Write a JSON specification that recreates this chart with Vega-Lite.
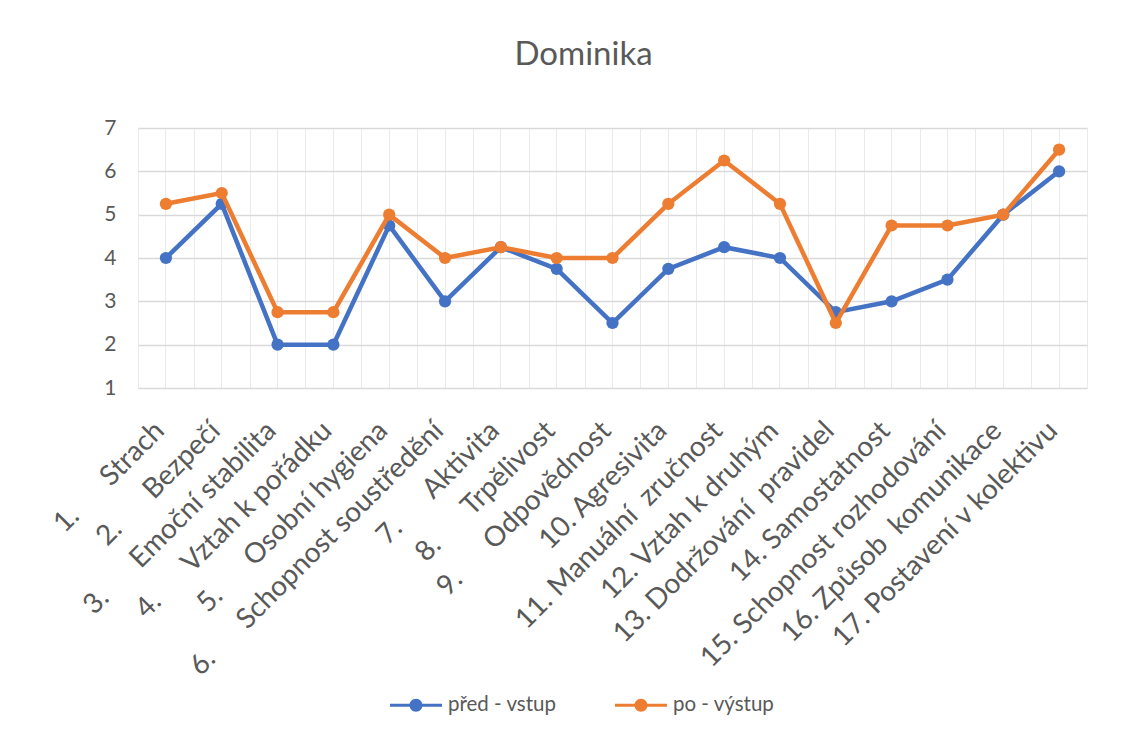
{
  "$schema": "https://vega.github.io/schema/vega-lite/v6.json",
  "autosize": {"type": "none"},
  "width": 949,
  "height": 260,
  "padding": {"left": 138, "top": 128, "right": 57, "bottom": 351},
  "title": {"text": "Dominika", "fontSize": 33, "font": "Lato", "fontWeight": "normal", "color": "#595959", "anchor": "middle", "dx": -29, "offset": 45},
  "data": {"values": [
    {"k": "1.\u00a0\u00a0\u00a0\u00a0\u00a0\u00a0Strach", "s": "před - vstup", "v": 4},
    {"k": "2.\u00a0\u00a0\u00a0\u00a0\u00a0\u00a0Bezpečí", "s": "před - vstup", "v": 5.25},
    {"k": "3.\u00a0\u00a0\u00a0\u00a0\u00a0\u00a0Emoční stabilita", "s": "před - vstup", "v": 2},
    {"k": "4.\u00a0\u00a0\u00a0\u00a0\u00a0\u00a0Vztah k pořádku", "s": "před - vstup", "v": 2},
    {"k": "5.\u00a0\u00a0\u00a0\u00a0\u00a0\u00a0Osobní hygiena", "s": "před - vstup", "v": 4.75},
    {"k": "6.\u00a0\u00a0\u00a0\u00a0\u00a0\u00a0Schopnost soustředění", "s": "před - vstup", "v": 3},
    {"k": "7.\u00a0\u00a0\u00a0\u00a0\u00a0\u00a0Aktivita", "s": "před - vstup", "v": 4.25},
    {"k": "8.\u00a0\u00a0\u00a0\u00a0\u00a0\u00a0Trpělivost", "s": "před - vstup", "v": 3.75},
    {"k": "9.\u00a0\u00a0\u00a0\u00a0\u00a0\u00a0Odpovědnost", "s": "před - vstup", "v": 2.5},
    {"k": "10. Agresivita", "s": "před - vstup", "v": 3.75},
    {"k": "11. Manuální\u00a0 zručnost", "s": "před - vstup", "v": 4.25},
    {"k": "12. Vztah k druhým", "s": "před - vstup", "v": 4},
    {"k": "13. Dodržování\u00a0 pravidel", "s": "před - vstup", "v": 2.75},
    {"k": "14. Samostatnost", "s": "před - vstup", "v": 3},
    {"k": "15. Schopnost rozhodování", "s": "před - vstup", "v": 3.5},
    {"k": "16. Způsob\u00a0 komunikace", "s": "před - vstup", "v": 5},
    {"k": "17. Postavení v kolektivu", "s": "před - vstup", "v": 6},
    {"k": "1.\u00a0\u00a0\u00a0\u00a0\u00a0\u00a0Strach", "s": "po - výstup", "v": 5.25},
    {"k": "2.\u00a0\u00a0\u00a0\u00a0\u00a0\u00a0Bezpečí", "s": "po - výstup", "v": 5.5},
    {"k": "3.\u00a0\u00a0\u00a0\u00a0\u00a0\u00a0Emoční stabilita", "s": "po - výstup", "v": 2.75},
    {"k": "4.\u00a0\u00a0\u00a0\u00a0\u00a0\u00a0Vztah k pořádku", "s": "po - výstup", "v": 2.75},
    {"k": "5.\u00a0\u00a0\u00a0\u00a0\u00a0\u00a0Osobní hygiena", "s": "po - výstup", "v": 5},
    {"k": "6.\u00a0\u00a0\u00a0\u00a0\u00a0\u00a0Schopnost soustředění", "s": "po - výstup", "v": 4},
    {"k": "7.\u00a0\u00a0\u00a0\u00a0\u00a0\u00a0Aktivita", "s": "po - výstup", "v": 4.25},
    {"k": "8.\u00a0\u00a0\u00a0\u00a0\u00a0\u00a0Trpělivost", "s": "po - výstup", "v": 4},
    {"k": "9.\u00a0\u00a0\u00a0\u00a0\u00a0\u00a0Odpovědnost", "s": "po - výstup", "v": 4},
    {"k": "10. Agresivita", "s": "po - výstup", "v": 5.25},
    {"k": "11. Manuální\u00a0 zručnost", "s": "po - výstup", "v": 6.25},
    {"k": "12. Vztah k druhým", "s": "po - výstup", "v": 5.25},
    {"k": "13. Dodržování\u00a0 pravidel", "s": "po - výstup", "v": 2.5},
    {"k": "14. Samostatnost", "s": "po - výstup", "v": 4.75},
    {"k": "15. Schopnost rozhodování", "s": "po - výstup", "v": 4.75},
    {"k": "16. Způsob\u00a0 komunikace", "s": "po - výstup", "v": 5},
    {"k": "17. Postavení v kolektivu", "s": "po - výstup", "v": 6.5}
  ]},
  "layer": [
    {
      "transform": [{"filter": "datum.s === 'před - vstup'"}],
      "mark": {"type": "line", "strokeWidth": 4.5},
      "encoding": {
        "x": {"field": "k", "type": "nominal", "sort": null, "scale": {"type": "band", "paddingInner": 0, "paddingOuter": 0},
          "axis": {"orient": "bottom", "title": null, "labelAngle": -45, "labelAlign": "right", "labelBaseline": "alphabetic", "labelFontSize": 28, "labelColor": "#595959", "labelLimit": 0, "labelOverlap": false, "labelBound": false, "labelFlush": false, "labelPadding": 44, "tickSize": 0, "ticks": false, "domain": false, "grid": true, "gridColor": "#EBEBEB", "gridWidth": 1, "bandPosition": 0.5}},
        "y": {"field": "v", "type": "quantitative", "scale": {"domain": [1, 7], "nice": false, "zero": false},
          "axis": {"title": null, "values": [1, 2, 3, 4, 5, 6, 7], "labelFontSize": 21, "labelColor": "#595959", "labelPadding": 22, "ticks": false, "domain": false, "grid": true, "gridColor": "#D9D9D9", "gridWidth": 1.3}},
        "color": {"field": "s", "type": "nominal", "sort": null, "scale": {"domain": ["před - vstup", "po - výstup"], "range": ["#4472C4", "#ED7D31"]},
          "legend": {"title": null, "orient": "none", "legendX": 252, "legendY": 551, "padding": 0, "direction": "horizontal", "labelFontSize": 20.5, "labelColor": "#595959", "symbolType": "M-1,-0.058H1V0.058H-1Z M-0.25,0A0.25,0.25 0 1,1 0.25,0A0.25,0.25 0 1,1 -0.25,0Z", "symbolSize": 2704, "symbolStrokeWidth": 0, "columnPadding": 58, "labelOffset": 6}}
      }
    },
    {
      "transform": [{"filter": "datum.s === 'před - vstup'"}],
      "mark": {"type": "point", "filled": true, "size": 150, "opacity": 1},
      "encoding": {
        "x": {"field": "k", "type": "nominal", "sort": null,
          "axis": {"orient": "top", "title": null, "tickBand": "extent", "grid": true, "gridColor": "#EBEBEB", "gridWidth": 1, "labels": false, "ticks": false, "domain": false}},
        "y": {"field": "v", "type": "quantitative"},
        "color": {"field": "s", "type": "nominal", "sort": null}
      }
    },
    {
      "transform": [{"filter": "datum.s === 'po - výstup'"}],
      "mark": {"type": "line", "strokeWidth": 4.5},
      "encoding": {
        "x": {"field": "k", "type": "nominal", "sort": null, "axis": null},
        "y": {"field": "v", "type": "quantitative"},
        "color": {"field": "s", "type": "nominal", "sort": null}
      }
    },
    {
      "transform": [{"filter": "datum.s === 'po - výstup'"}],
      "mark": {"type": "point", "filled": true, "size": 150, "opacity": 1},
      "encoding": {
        "x": {"field": "k", "type": "nominal", "sort": null, "axis": null},
        "y": {"field": "v", "type": "quantitative"},
        "color": {"field": "s", "type": "nominal", "sort": null}
      }
    }
  ],
  "resolve": {"axis": {"x": "independent"}},
  "config": {"font": "Lato", "view": {"stroke": null}, "background": "white"}
}
